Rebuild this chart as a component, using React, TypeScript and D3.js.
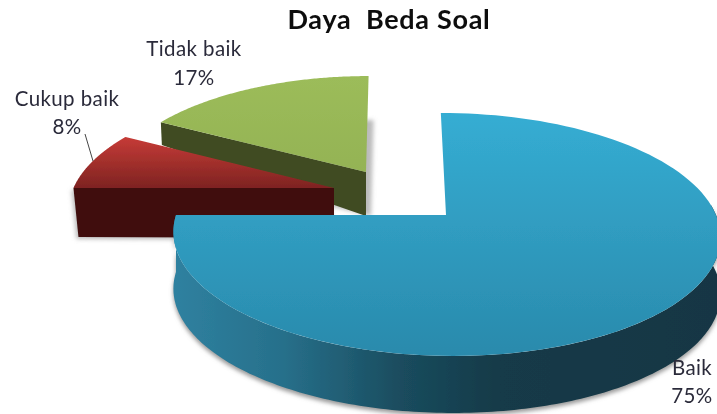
import React from "react";
import * as d3 from "d3";

const categories = ["Baik", "Cukup baik", "Tidak baik"];
const values = [75, 8, 17];
const percentLabels = ["75%", "8%", "17%"];

// layout only
const W = 717, H = 414;
const A = 270, B = 118.4, K = 0.16;
const apex = [[446, 215], [334, 188], [366, 172]];
const scaleBy = [1, 0.965, 0.94];
const shear = [-6, 8, 3];
const depth = [57, 50, 44];
const labelPos = [[692, 375, 403], [67, 106, 134], [194, 56, 85]];

const project = (t: number, i: number): [number, number] => {
  const s = scaleBy[i], c = apex[i];
  const u = Math.sin(t), v = Math.cos(t), w = 1 + K * v;
  return [c[0] + (s * A * u + shear[i] * v) / w, c[1] - (s * B * v) / w];
};
const line = d3.line<[number, number]>().curve(d3.curveLinear);

export default function App() {
  const arcs = d3.pie<number>().sort(null)(values);
  const paths = arcs.map((a, i) => {
    const c = apex[i], d = depth[i];
    const n = 120;
    const angs = d3.range(n + 1).map((j) => a.startAngle + ((a.endAngle - a.startAngle) * j) / n);
    const rim = angs.map((t) => project(t, i));
    const top = line([c as [number, number], ...rim])! + "Z";
    const p0 = rim[0];
    const wall = line([p0, c as [number, number], [c[0], c[1] + d], [p0[0] + (i === 1 ? 5 : 1), p0[1] + d * (i === 1 ? 0.98 : 0.52)]])! + "Z";
    return { top, wall };
  });
  const sideAngles = d3.range(85, 271, 1).map((deg) => (deg * Math.PI) / 180);
  const sideTop = sideAngles.map((t) => project(t, 0));
  const sideBottom = sideTop.map(([x, y]) => [x, y + depth[0]] as [number, number]).reverse();
  const side = line([...sideTop, ...sideBottom])! + "Z";

  const font = "Lato, 'Open Sans', sans-serif";
  return (
    <svg width={W} height={H} style={{ position: "absolute", left: 0, top: 0, background: "#fff" }}>
      <defs>
        <linearGradient id="blueTop" x1="0" y1="0" x2="0" y2="1">
          <stop offset="0" stopColor="#35add3" />
          <stop offset="1" stopColor="#2a8aac" />
        </linearGradient>
        <linearGradient id="blueSide" gradientUnits="userSpaceOnUse" x1={173} y1={0} x2={717} y2={0}>
          <stop offset="0" stopColor="#2f81a0" />
          <stop offset="0.2" stopColor="#27708b" />
          <stop offset="0.42" stopColor="#1a4c5e" />
          <stop offset="0.6" stopColor="#143a48" />
          <stop offset="1" stopColor="#123644" />
        </linearGradient>
        <linearGradient id="redTop" x1="0" y1="0" x2="0" y2="1">
          <stop offset="0" stopColor="#c63b37" />
          <stop offset="1" stopColor="#7e2321" />
        </linearGradient>
        <linearGradient id="greenTop" x1="0" y1="0" x2="0" y2="1">
          <stop offset="0" stopColor="#9cbc5a" />
          <stop offset="1" stopColor="#94b354" />
        </linearGradient>
        <filter id="soft" x="-10%" y="-10%" width="120%" height="120%">
          <feGaussianBlur stdDeviation="2" />
        </filter>
        <filter id="aa">
          <feGaussianBlur stdDeviation="0.4" />
        </filter>
      </defs>

      <g filter="url(#aa)">
        {/* shadows */}
        <path d={side} fill="#999" filter="url(#soft)" transform="translate(0,3)" />
        <path d={paths[2].top} fill="#bbb" filter="url(#soft)" transform="translate(5,44)" />
        <path d={paths[1].wall} fill="#bbb" filter="url(#soft)" transform="translate(-2,2)" />

        {/* Tidak baik */}
        <path d={paths[2].wall} fill="#3f4b20" />
        <path d={paths[2].top} fill="url(#greenTop)" />

        {/* Cukup baik */}
        <path d={paths[1].top} fill="url(#redTop)" />
        <path d={paths[1].wall} fill="#3f0f0e" />

        {/* Baik */}
        <path d={side} fill="url(#blueSide)" />
        <path d={paths[0].top} fill="url(#blueTop)" />

        {/* leader */}
        <line x1={85} y1={134} x2={93} y2={161} stroke="#444" strokeWidth={1} />

        <text x={389} y={29} textAnchor="middle" fontFamily={font} fontWeight={700} fontSize={27} letterSpacing={0.7} fill="#111" style={{ whiteSpace: "pre" }}>
          {"Daya  Beda Soal"}
        </text>
        {categories.map((name, i) => (
          <g key={name} fontFamily={font} fontSize={20.5} letterSpacing={0.4} fill="#2b2b3a" textAnchor="middle">
            <text x={labelPos[i][0]} y={labelPos[i][1]}>{name}</text>
            <text x={labelPos[i][0]} y={labelPos[i][2]}>{percentLabels[i]}</text>
          </g>
        ))}
      </g>
    </svg>
  );
}
